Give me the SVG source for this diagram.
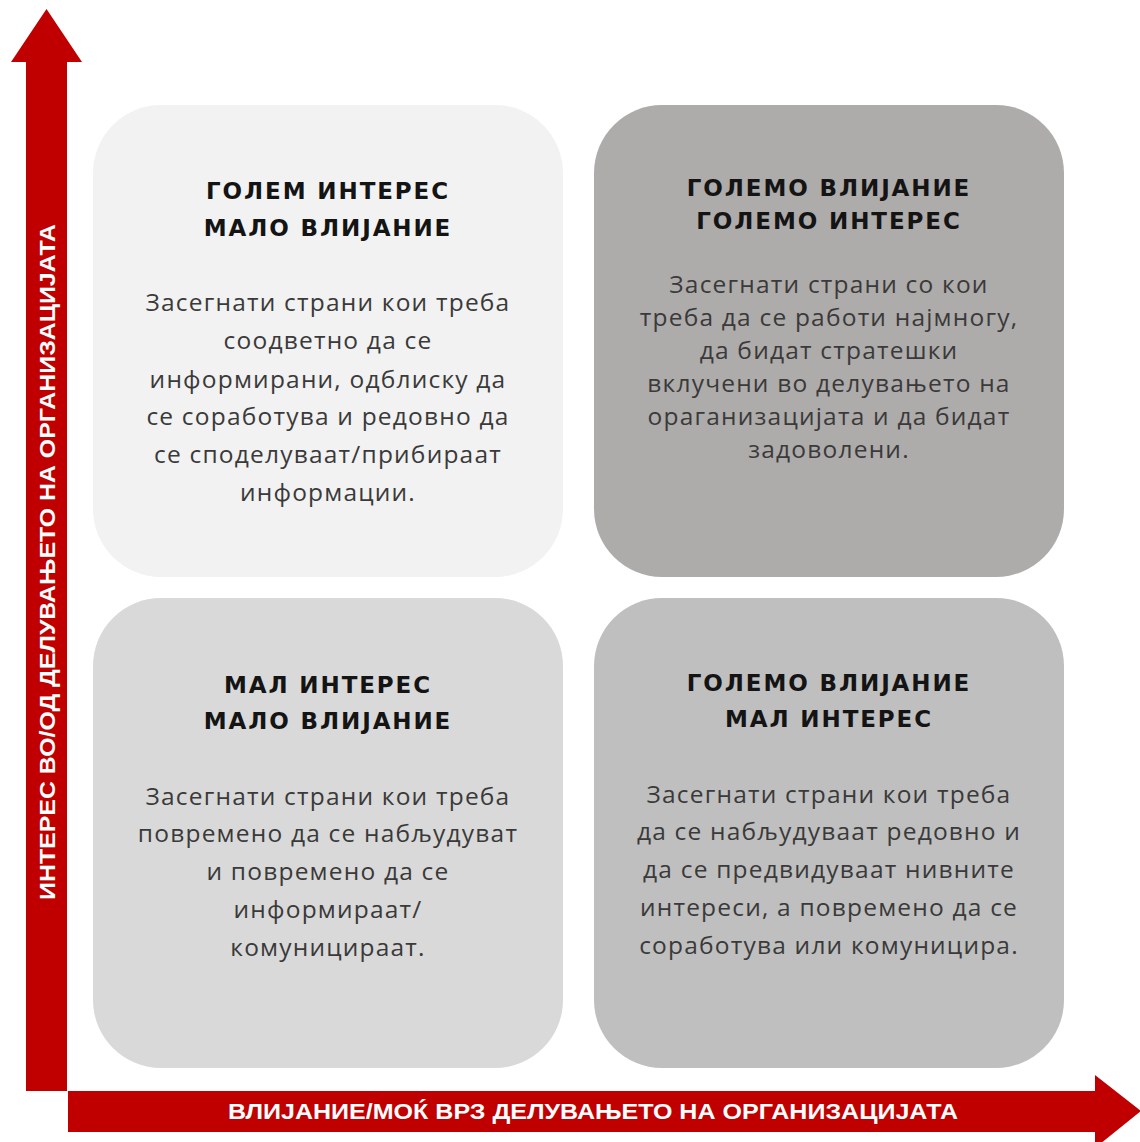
<svg xmlns="http://www.w3.org/2000/svg" width="1140" height="1142" viewBox="0 0 1140 1142">
  <style>
    .box { stroke: none; }
    .title { font-family: "DejaVu Sans", "Open Sans", sans-serif; font-weight: bold; font-size: 23px; letter-spacing: 1.9px; fill: #141414; text-anchor: middle; }
    .body { font-family: "Open Sans", "Noto Sans", sans-serif; font-size: 24.5px; letter-spacing: 1.2px; fill: #3a3a3a; text-anchor: middle; }
    .axis { fill: #c00000; }
    .axislabel { font-family: "Liberation Sans", Arial, sans-serif; font-weight: bold; font-size: 22px; fill: #ffffff; text-anchor: middle; }
  </style>
  <rect width="1140" height="1142" fill="#ffffff"/>

  <g id="connectors">
    <polygon class="axis" points="26,1091 26,62 11,62 46.5,9 82,62 67,62 67,1091"/>
    <polygon class="axis" points="68,1091 1095,1091 1095,1075 1141,1111 1095,1148 1095,1132 68,1132"/>
    <text class="axislabel" transform="translate(55,562) rotate(-90)" textLength="676" lengthAdjust="spacingAndGlyphs">ИНТЕРЕС ВО/ОД ДЕЛУВАЊЕТО НА ОРГАНИЗАЦИЈАТА</text>
    <text class="axislabel" x="593" y="1119" textLength="730" lengthAdjust="spacingAndGlyphs">ВЛИЈАНИЕ/МОЌ ВРЗ ДЕЛУВАЊЕТО НА ОРГАНИЗАЦИЈАТА</text>
  </g>

  <g id="node-tl">
    <rect class="box" x="93" y="105" width="470" height="472" rx="68" ry="68" fill="#f2f2f2"/>
    <text class="title" x="328" y="199">ГОЛЕМ ИНТЕРЕС</text>
    <text class="title" x="328" y="236">МАЛО ВЛИЈАНИЕ</text>
    <text class="body" x="328" y="311">Засегнати страни кои треба</text>
    <text class="body" x="328" y="349">соодветно да се</text>
    <text class="body" x="328" y="388">информирани, одблиску да</text>
    <text class="body" x="328" y="425">се соработува и редовно да</text>
    <text class="body" x="328" y="463">се споделуваат/прибираат</text>
    <text class="body" x="328" y="501">информации.</text>
  </g>

  <g id="node-tr">
    <rect class="box" x="594" y="105" width="470" height="472" rx="68" ry="68" fill="#aeabab"/>
    <text class="title" x="829" y="196">ГОЛЕМО ВЛИЈАНИЕ</text>
    <text class="title" x="829" y="229">ГОЛЕМО ИНТЕРЕС</text>
    <text class="body" x="829" y="293">Засегнати страни со кои</text>
    <text class="body" x="829" y="326">треба да се работи најмногу,</text>
    <text class="body" x="829" y="359">да бидат стратешки</text>
    <text class="body" x="829" y="392">вклучени во делувањето на</text>
    <text class="body" x="829" y="425">ораганизацијата и да бидат</text>
    <text class="body" x="829" y="458">задоволени.</text>
  </g>

  <g id="node-bl">
    <rect class="box" x="93" y="598" width="470" height="470" rx="68" ry="68" fill="#d9d9d9"/>
    <text class="title" x="328" y="693">МАЛ ИНТЕРЕС</text>
    <text class="title" x="328" y="729">МАЛО ВЛИЈАНИЕ</text>
    <text class="body" x="328" y="805">Засегнати страни кои треба</text>
    <text class="body" x="328" y="842">повремено да се набљудуват</text>
    <text class="body" x="328" y="880">и повремено да се</text>
    <text class="body" x="328" y="918">информираат/</text>
    <text class="body" x="328" y="956">комуницираат.</text>
  </g>

  <g id="node-br">
    <rect class="box" x="594" y="598" width="470" height="470" rx="68" ry="68" fill="#bfbfbf"/>
    <text class="title" x="829" y="691">ГОЛЕМО ВЛИЈАНИЕ</text>
    <text class="title" x="829" y="727">МАЛ ИНТЕРЕС</text>
    <text class="body" x="829" y="803">Засегнати страни кои треба</text>
    <text class="body" x="829" y="840">да се набљудуваат редовно и</text>
    <text class="body" x="829" y="878">да се предвидуваат нивните</text>
    <text class="body" x="829" y="916">интереси, а повремено да се</text>
    <text class="body" x="829" y="954">соработува или комуницира.</text>
  </g>
</svg>
